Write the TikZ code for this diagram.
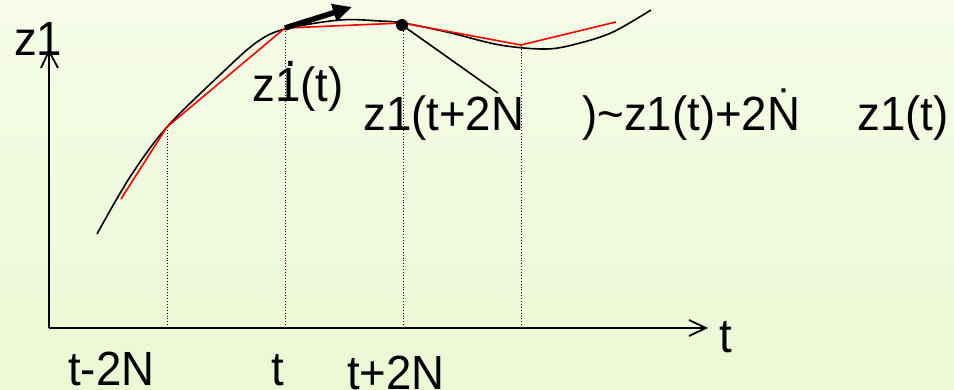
\documentclass[tikz,border=0pt]{standalone}
\usepackage{fontspec}
\setmainfont{Liberation Sans}
\newfontfamily\labfont[FakeStretch=0.95]{Liberation Sans}
\usetikzlibrary{arrows.meta}
\definecolor{bgtop}{RGB}{246,252,232}
\definecolor{bgbot}{RGB}{236,248,212}
\newcommand{\dotover}[2]{\makebox[0pt][l]{\kern#1\raisebox{0.72em}{.}}#2}
\tikzset{
  lbl/.style={anchor=base west,inner sep=0pt,font=\labfont\fontsize{48}{56}\selectfont},
  axis/.style={line width=1.8pt},
  guide/.style={line width=0.9pt,dotted},
  curve/.style={line width=1.6pt},
  poly/.style={line width=1.6pt,red},
}
\begin{document}
\begin{tikzpicture}[x=1pt,y=-1pt]
\shade[top color=bgtop,bottom color=bgbot] (0,0) rectangle (954,389);
\useasboundingbox (0,0) rectangle (954,389);
% points
\coordinate (O) at (49,328);
\coordinate (Ytop) at (49,51);
\coordinate (Xend) at (706,328);
\coordinate (P1) at (167,127);
\coordinate (P2) at (285,28);
\coordinate (P3) at (403,23);
\coordinate (P4) at (521,45);
\coordinate (B1) at (167,328);
\coordinate (B2) at (285,328);
\coordinate (B3) at (403,328);
\coordinate (B4) at (521,328);
\coordinate (R0) at (121,199);
\coordinate (R5) at (616,22);
\coordinate (Tend) at (352,7);
\coordinate (Dot) at (402,25);
\coordinate (Lend) at (498,93);
% axes
\draw[axis] (O) -- (Ytop);
\draw[axis] (41,68) -- (Ytop) -- (58,68);
\draw[axis] (O) -- (Xend);
\draw[axis] (689,320) -- (Xend) -- (689,336);
% guides
\draw[guide] (B1) -- (P1);
\draw[guide] (B2) -- (P2);
\draw[guide] (B3) -- (P3);
\draw[guide] (B4) -- (P4);
% curve
\draw[curve] plot[smooth,tension=0.55] coordinates {(97,234) (130,177) (167,127) (223,72) (257,42) (285,29) (340,20) (380,21) (403,23) (447,32) (500,45) (547,49) (580,43) (613,32) (651,10)};
% red polyline
\draw[poly] (R0) -- (P1) -- (P2) -- (P3) -- (P4) -- (R5);
% tangent arrow
\draw[line width=5.5pt,-{Triangle[length=19pt,width=17pt]}] (P2) -- (Tend);
% dot and line
\fill (Dot) circle (6);
\draw[line width=1.6pt] (Dot) -- (Lend);
% labels
\node[lbl] (zax) at (14,55) {z1};
\node[lbl] (tax) at (719,352) {t};
\node[lbl] (zd) at (252,101) {z\dotover{0.2em}{1}(t)};
\node[lbl] (za) at (363,130) {z1(t+2N};
\node[lbl] (zb) at (582,130) {)\char`\~z1(t)+2\.{N}};
\node[lbl] (zc) at (857,130) {z1(t)};
\node[lbl] (l1) at (68,385) {t-2N};
\node[lbl] (l2) at (271,385) {t};
\node[lbl] (l3) at (347,389) {t+2N};
\end{tikzpicture}
\end{document}
